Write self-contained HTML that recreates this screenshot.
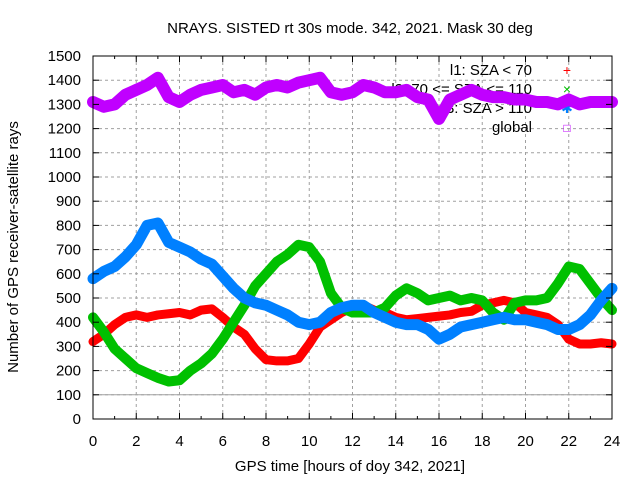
<!DOCTYPE html>
<html><head><meta charset="utf-8"><style>
body{margin:0;background:#fff}
svg text{font-family:"Liberation Sans",sans-serif;font-size:15px;fill:#000}
</style></head><body>
<svg id="chart" width="640" height="480" viewBox="0 0 640 480">
<rect width="640" height="480" fill="#fff"/>
<g id="grid"></g>
<g id="legend"></g>
<g id="series"></g>
<g id="axes"></g>
<text x="350" y="33" text-anchor="middle">NRAYS. SISTED rt 30s mode. 342, 2021. Mask 30 deg</text>
<text x="350" y="471" text-anchor="middle">GPS time [hours of doy 342, 2021]</text>
<text transform="translate(18,247) rotate(-90)" text-anchor="middle">Number of GPS receiver-satellite rays</text>
</svg>
<script>
const hours=[0,0.5,1,1.5,2,2.5,3,3.5,4,4.5,5,5.5,6,6.5,7,7.5,8,8.5,9,9.5,10,10.5,11,11.5,12,12.5,13,13.5,14,14.5,15,15.5,16,16.5,17,17.5,18,18.5,19,19.5,20,20.5,21,21.5,22,22.5,23,23.5,24];
const l1=[320,350,390,420,430,420,430,435,440,430,450,455,420,380,350,290,245,240,240,250,310,380,410,440,460,470,450,440,420,410,415,420,425,430,440,445,470,480,490,480,440,430,420,390,330,310,310,315,310];
const l2=[420,360,290,250,210,190,170,155,160,200,230,270,330,400,470,550,600,650,680,720,710,650,520,460,440,440,440,460,510,540,520,490,500,510,490,500,490,440,410,480,490,490,500,560,630,620,560,500,450];
const l3=[580,610,630,670,720,800,810,730,710,690,660,640,590,540,500,480,470,450,430,400,390,400,440,460,470,470,440,420,400,390,390,370,330,350,380,390,400,410,420,410,410,400,390,370,370,390,430,490,540];
const globalRays=[1310,1290,1300,1340,1360,1380,1410,1330,1310,1340,1360,1370,1380,1350,1360,1340,1370,1380,1370,1390,1400,1410,1350,1340,1350,1380,1370,1350,1350,1360,1330,1320,1240,1320,1340,1360,1340,1330,1330,1320,1320,1310,1310,1300,1320,1300,1310,1310,1310];
const xTicks=[0,2,4,6,8,10,12,14,16,18,20,22,24];
const yTicks=[0,100,200,300,400,500,600,700,800,900,1000,1100,1200,1300,1400,1500];
const legendLabels=["l1: SZA < 70","l2: 70 <= SZA <= 110","l3: SZA > 110","global"];
const X0=93,X1=612,Y0=419,Y1=56;
const xs=h=>X0+(X1-X0)*h/24, ys=v=>Y0-(Y0-Y1)*v/1500;
const NS="http://www.w3.org/2000/svg";
function mk(t,a,p){const e=document.createElementNS(NS,t);for(const k in a)e.setAttribute(k,a[k]);p.appendChild(e);return e;}
const grid=document.getElementById('grid'),axes=document.getElementById('axes'),ser=document.getElementById('series'),leg=document.getElementById('legend');
xTicks.forEach(t=>{const x=xs(t);
 if(t>0&&t<24){const g=mk('line',{x1:x,x2:x,y1:Y1,y2:Y0,stroke:'#a0a0a0','stroke-dasharray':'3,3'},grid);
 
 }
 const l=mk('text',{x:x,y:Y0+27,'text-anchor':'middle'},axes);l.textContent=t;
 
 
 mk('line',{x1:x,x2:x,y1:Y0,y2:Y0-6,stroke:'#000'},axes);mk('line',{x1:x,x2:x,y1:Y1,y2:Y1+6,stroke:'#000'},axes);});
for(let h=1;h<24;h+=2){const x=xs(h);mk('line',{x1:x,x2:x,y1:Y0,y2:Y0-3,stroke:'#000'},axes);mk('line',{x1:x,x2:x,y1:Y1,y2:Y1+3,stroke:'#000'},axes);}
yTicks.forEach(t=>{const y=ys(t);
 if(t>0&&t<1500){const g=mk('line',{x1:X0,x2:X1,y1:y,y2:y,stroke:'#a0a0a0','stroke-dasharray':'3,3'},grid);
 
 }
 const l=mk('text',{x:X0-12,y:y+5,'text-anchor':'end'},axes);l.textContent=t;
 
 
 mk('line',{x1:X0,x2:X0+6,y1:y,y2:y,stroke:'#000'},axes);mk('line',{x1:X1,x2:X1-6,y1:y,y2:y,stroke:'#000'},axes);});
const ref=mk('line',{x1:X0,x2:X1,y1:ys(100),y2:ys(100),stroke:'#a0a0a0'},grid);


const frame=mk('rect',{x:X0,y:Y1,width:X1-X0,height:Y0-Y1,fill:'none',stroke:'#000'},axes);


const colors=['#ff0000','#00c000','#0080ff','#c000ff'];
const syms=['+','×','✱','□'];
legendLabels.forEach((s,i)=>{const y=75+i*19;
 const t=mk('text',{x:532,y:y,'text-anchor':'end'},leg);t.textContent=s;
 
 
 const m=mk('text',{x:567,y:y,'text-anchor':'middle',style:'fill:'+colors[i]+';font-size:'+(i==3?12:14)+'px'},leg);m.textContent=syms[i];
 
 });
const series=[[l1,'series-l1',9],[l2,'series-l2',10],[l3,'series-l3',11],[globalRays,'series-global',12]];
series.forEach((s,i)=>{const pts=hours.map((h,j)=>xs(h)+','+ys(s[0][j])).join(' ');
 const p=mk('polyline',{points:pts,fill:'none',stroke:colors[i],'stroke-width':s[2],'stroke-linejoin':'round','stroke-linecap':'round'},ser);
 
 });
</script>
</body></html>
